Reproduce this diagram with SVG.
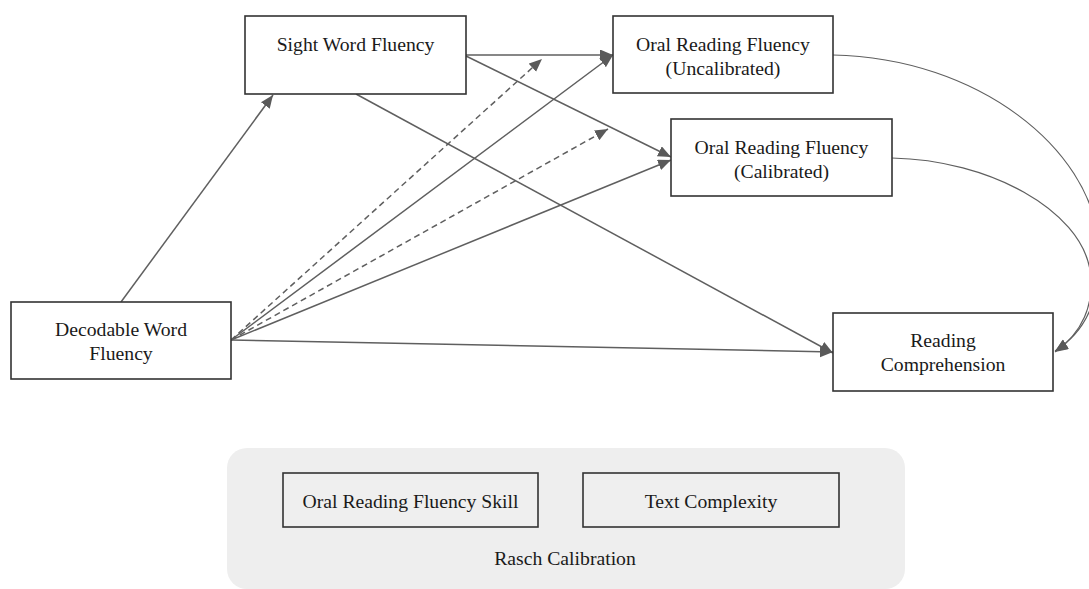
<svg xmlns="http://www.w3.org/2000/svg" width="1089" height="589" viewBox="0 0 1089 589">
<style>
.box{fill:#fff;stroke:#333;stroke-width:1.6}
.ibox{fill:#efefef;stroke:#333;stroke-width:1.6}
.t{font-family:"Liberation Serif","Times New Roman",serif;font-size:19.7px;fill:#1a1a1a;text-anchor:middle}
.e{fill:none;stroke:#5f5f5f;stroke-width:1.5;marker-end:url(#ah)}
.d{stroke-dasharray:6,4}
.c{stroke-width:1.2}
</style>
<defs>
<marker id="ah" markerUnits="userSpaceOnUse" markerWidth="14" markerHeight="12" refX="13" refY="5.5" orient="auto">
<path d="M0,0 L13,5.5 L0,11 z" fill="#5a5a5a"/>
</marker>
</defs>
<rect x="0" y="0" width="1089" height="589" fill="#fff"/>
<g id="rasch">
<rect x="227" y="448" width="678" height="141" rx="20" fill="#eeeeee"/>
<text class="t" x="565" y="565">Rasch Calibration</text>
</g>
<g id="orf-skill">
<rect class="ibox" x="283" y="473" width="255" height="54"/>
<text class="t" x="410.5" y="508">Oral Reading Fluency Skill</text>
</g>
<g id="text-complexity">
<rect class="ibox" x="583" y="473" width="256" height="54"/>
<text class="t" x="711" y="508">Text Complexity</text>
</g>
<g id="connectors">
<path class="e" d="M121,302 L273,95"/>
<path class="e" d="M466,55 L613,55"/>
<path class="e" d="M466,56 L671,157"/>
<path class="e" d="M356,94 L833,353"/>
<path class="e" d="M231,340 L613,55"/>
<path class="e d" d="M231,340 L542,59"/>
<path class="e d" d="M231,340 L608,129"/>
<path class="e" d="M231,340 L671,160"/>
<path class="e" d="M231,340 L833,352"/>
<path class="e c" d="M833,55 C980,58 1090,150 1098,240 C1103,300 1085,332 1055,351"/>
<path class="e c" d="M892,158 C990,160 1080,210 1090,270 C1095,305 1082,333 1055,352"/>
</g>
<g id="sight-word">
<rect class="box" x="245" y="16" width="221" height="78"/>
<text class="t" x="355.5" y="51">Sight Word Fluency</text>
</g>
<g id="orf-uncal">
<rect class="box" x="613" y="16" width="220" height="77"/>
<text class="t" x="723" y="51">Oral Reading Fluency</text>
<text class="t" x="723" y="75">(Uncalibrated)</text>
</g>
<g id="orf-cal">
<rect class="box" x="671" y="119" width="221" height="77"/>
<text class="t" x="781.5" y="154">Oral Reading Fluency</text>
<text class="t" x="781.5" y="178">(Calibrated)</text>
</g>
<g id="decodable">
<rect class="box" x="11" y="302" width="220" height="77"/>
<text class="t" x="121" y="336">Decodable Word</text>
<text class="t" x="121" y="360">Fluency</text>
</g>
<g id="reading-comp">
<rect class="box" x="833" y="313" width="220" height="78"/>
<text class="t" x="943" y="347">Reading</text>
<text class="t" x="943" y="371">Comprehension</text>
</g>
</svg>
